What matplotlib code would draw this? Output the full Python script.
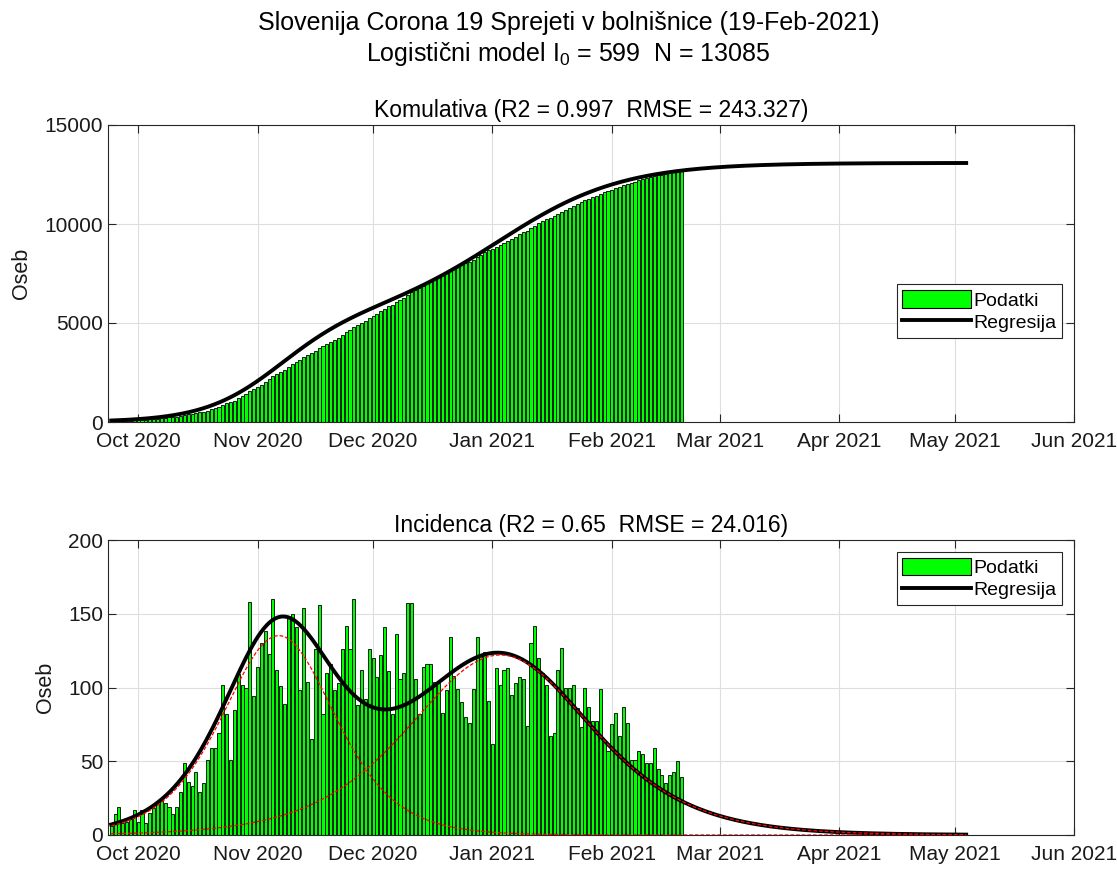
import numpy as np
import pandas as pd
import matplotlib
matplotlib.use('Agg')
import matplotlib.pyplot as plt
import matplotlib.dates as mdates
from matplotlib.patches import Patch
from matplotlib.lines import Line2D

plt.rcParams['font.family'] = ['Liberation Sans', 'DejaVu Sans']
plt.rcParams['mathtext.default'] = 'regular'

# ---------------- data ----------------
first_day = '2020-09-24'
inc_sep = [6, 14, 19, 8, 9, 11, 17]
inc_oct = [9, 17, 8, 15, 18, 21, 25, 22, 19, 14, 19, 29, 49, 36, 33, 43, 29, 35, 51,
           59, 59, 69, 102, 82, 51, 85, 109, 102, 100, 158, 94]
inc_nov = [114, 130, 138, 123, 160, 112, 101, 89, 147, 150, 141, 98, 154, 104, 65,
           126, 156, 82, 110, 116, 98, 103, 126, 142, 126, 160, 88, 112, 92, 126]
inc_dec = [120, 107, 122, 141, 111, 82, 136, 106, 110, 157, 157, 106, 82, 114, 116,
           116, 104, 103, 83, 98, 134, 108, 99, 90, 80, 76, 99, 134, 122, 124, 91]
inc_jan = [62, 113, 102, 112, 113, 95, 103, 107, 106, 74, 130, 142, 120, 110, 102,
           67, 69, 112, 127, 100, 100, 102, 86, 73, 100, 87, 77, 77, 99, 63, 57]
inc_feb = [75, 83, 67, 87, 76, 51, 51, 57, 55, 49, 49, 59, 45, 41, 35, 41, 43, 50, 39]
cum_base = 0

# logistic model (two components), parameters
N1, k1, t1 = 5300.0, 0.102, '2020-11-06 12:00'
N2, k2, t2 = 7785.0, 0.0627, '2021-01-03 00:00'
model_end = '2021-05-04'

xtick_months = ['2020-10-01', '2020-11-01', '2020-12-01', '2021-01-01', '2021-02-01',
                '2021-03-01', '2021-04-01', '2021-05-01', '2021-06-01']

title1 = 'Slovenija Corona 19 Sprejeti v bolnišnice (19-Feb-2021)'
title2 = 'Logistični model I$_0$ = 599  N = 13085'
title_top = 'Komulativa (R2 = 0.997  RMSE = 243.327)'
title_bot = 'Incidenca (R2 = 0.65  RMSE = 24.016)'

# ---------------- derived ----------------
incidence = np.array(inc_sep + inc_oct + inc_nov + inc_dec + inc_jan + inc_feb, float)
dates = pd.date_range(first_day, periods=len(incidence), freq='D')
xd = mdates.date2num(dates.to_pydatetime())
cumulative = cum_base + np.cumsum(incidence)

x_t1 = mdates.date2num(pd.Timestamp(t1).to_pydatetime())
x_t2 = mdates.date2num(pd.Timestamp(t2).to_pydatetime())
xm = np.arange(xd[0], mdates.date2num(pd.Timestamp(model_end).to_pydatetime()) + 0.01, 0.25)

def logi(x, N, k, t0):
    return N / (1.0 + np.exp(-k * (x - t0)))

def dlogi(x, N, k, t0):
    e = np.exp(-k * (x - t0))
    return N * k * e / (1.0 + e) ** 2

cum_model = logi(xm, N1, k1, x_t1) + logi(xm, N2, k2, x_t2)
c1 = dlogi(xm, N1, k1, x_t1)
c2 = dlogi(xm, N2, k2, x_t2)
inc_model = c1 + c2

# ---------------- figure ----------------
W, H = 1117, 869
fig = plt.figure(figsize=(W / 100, H / 100), dpi=100)

def ax_rect(l, t, r, b):
    return [l / W, 1 - b / H, (r - l) / W, (b - t) / H]

ax1 = fig.add_axes(ax_rect(108, 125, 1074, 422))
ax2 = fig.add_axes(ax_rect(108, 540, 1074, 835))

green = (0, 1, 0)
dark = (0.15, 0.15, 0.15)
xlim = (xd[0] - 0.83, mdates.date2num(pd.Timestamp('2021-06-01').to_pydatetime()))
xt = mdates.date2num(pd.to_datetime(xtick_months).to_pydatetime())

def style(ax, ylim, yticks):
    ax.set_xlim(*xlim)
    ax.set_ylim(*ylim)
    ax.set_xticks(xt)
    ax.xaxis.set_major_formatter(mdates.DateFormatter('%b %Y'))
    ax.set_yticks(yticks)
    ax.grid(True, color=(0.87, 0.87, 0.87), linewidth=0.8)
    ax.set_axisbelow(True)
    ax.tick_params(direction='in', length=6, width=0.8, colors=dark,
                   labelsize=15, top=True, right=True, labelcolor=(0.1, 0.1, 0.1))
    ax.tick_params(axis='x', pad=7)
    for s in ax.spines.values():
        s.set_color(dark)
        s.set_linewidth(0.8)
    ax.set_ylabel('Oseb', fontsize=15.5, color=(0.1, 0.1, 0.1), labelpad=9)

# top: cumulative
ax1.bar(xd, cumulative, width=0.8, color=green, edgecolor='black', linewidth=0.6, zorder=2)
ax1.plot(xm, cum_model, color='black', linewidth=2.8, zorder=3)
style(ax1, (0, 15000), [0, 5000, 10000, 15000])
ax1.set_title(title_top, fontsize=16.5, pad=6)

# bottom: incidence
ax2.bar(xd, incidence, width=0.8, color=green, edgecolor='black', linewidth=0.6, zorder=2)
ax2.plot(xm, inc_model, color='black', linewidth=2.8, zorder=3)
ax2.plot(xm, c1, color='red', linestyle='--', linewidth=0.9, dashes=(3, 1.5), zorder=4)
ax2.plot(xm, c2, color='red', linestyle='--', linewidth=0.9, dashes=(3, 1.5), zorder=4)
style(ax2, (0, 200), [0, 50, 100, 150, 200])
ax2.set_title(title_bot, fontsize=16.5, pad=6)

handles = [Patch(facecolor=green, edgecolor='black', linewidth=0.8),
           Line2D([0], [0], color='black', linewidth=2.8)]
for ax, anchor in ((ax1, (0.988, 0.463)), (ax2, (0.988, 0.96))):
    leg = ax.legend(handles, ['Podatki', 'Regresija'], loc='upper right',
                    bbox_to_anchor=anchor, fontsize=14, fancybox=False,
                    framealpha=1, edgecolor=dark, handlelength=3.5,
                    handleheight=1.0, handletextpad=0.15, labelspacing=0.15,
                    borderpad=0.3, borderaxespad=0.0)
    leg.get_frame().set_linewidth(0.8)

fig.text(0.509, 1 - 23 / H, title1, ha='center', va='center', fontsize=18)
fig.text(0.509, 1 - 54 / H, title2, ha='center', va='center', fontsize=18)

fig.savefig('out.png', dpi=100)
